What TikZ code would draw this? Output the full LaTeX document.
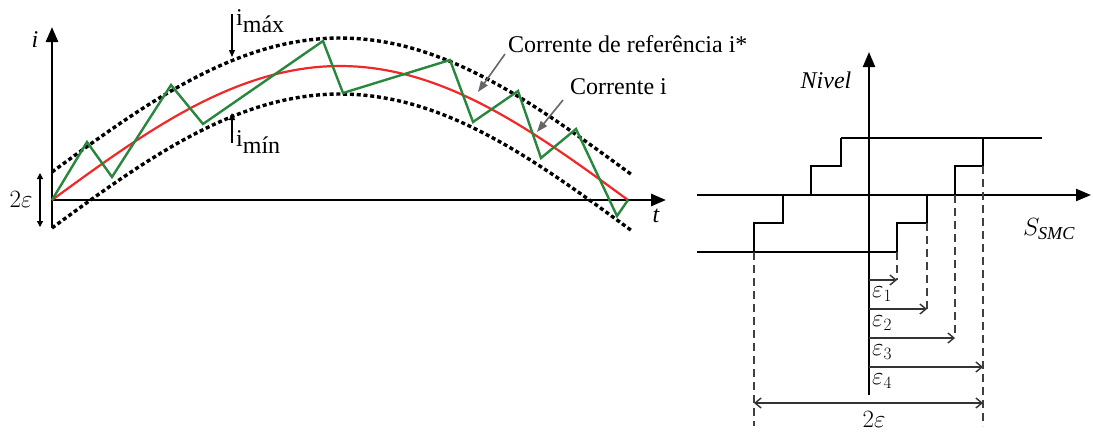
\documentclass[tikz,border=0pt]{standalone}
\usepackage{fontspec}
\setmainfont{Liberation Serif}
\usetikzlibrary{arrows.meta}
\definecolor{zig}{RGB}{40,135,60}
\definecolor{refred}{RGB}{240,40,40}
\tikzset{
  axis/.style={line width=2.8pt, -{Triangle[length=15pt,width=12pt]}},
  band/.style={line width=3.4pt, dash pattern=on 4pt off 2.8pt},
  level/.style={line width=2.2pt},
  guide/.style={line width=1.5pt, dash pattern=on 8pt off 5pt, black!75},
  dist/.style={line width=1.4pt, black!80, -{Straight Barb[length=6pt,width=10pt]}},
  lbl/.style={font=\fontsize{24}{28}\selectfont, inner sep=0pt},
  pointer/.style={line width=1.6pt, black!60, -{Triangle[length=11pt,width=8pt]}},
  limarrow/.style={line width=1.2pt, -{Triangle[length=7pt,width=6pt]}}
}
\begin{document}
\begin{tikzpicture}[x=1pt, y=-1pt]
            \useasboundingbox (0,0) rectangle (1093,432);
            \draw[axis] (52,228) -- (52,27);
            \draw[axis] (52,200) -- (666,200);
            \node[lbl, font=\fontsize{24}{28}\selectfont\itshape] (ilab) at (35,40) {i};
            \node[lbl, font=\fontsize{24}{28}\selectfont\itshape] (tlab) at (656,216) {t};
            \coordinate (epstop) at (40,173);
            \coordinate (epsbot) at (40,227);
            \draw[line width=1.2pt, {Triangle[length=6pt,width=6pt]}-{Triangle[length=6pt,width=6pt]}] (epstop) -- (epsbot);
            \node[lbl, font=\fontsize{27}{30}\selectfont] (epsleft) at (21,199) {$2\varepsilon$};
            \draw[band] plot[domain=52:632, samples=80] (\x,{172-134*sin(0.3125*(\x-52))});
            \draw[band] plot[domain=52:632, samples=80] (\x,{228-134*sin(0.3125*(\x-52))});
            \draw[refred, line width=2.2pt] plot[domain=52:628, samples=80] (\x,{200-134*sin(0.3125*(\x-52))});
            \draw[zig, line width=2.4pt] (52,200) -- (87,142) -- (112,177) -- (171,85) -- (203,124) -- (323,41) -- (343,93) -- (450,60) -- (473,122) -- (518,91) -- (541,158) -- (576,129) -- (617,216) -- (628,200);
            \node[lbl, anchor=west] (imax) at (236,21) {i\raisebox{-0.3em}{máx}};
            \coordinate (imaxtop) at (232,14);
            \coordinate (imaxtip) at (232,57);
            \draw[limarrow] (imaxtop) -- (imaxtip);
            \node[lbl, anchor=west] (imin) at (236,142) {i\raisebox{-0.3em}{mín}};
            \coordinate (iminbot) at (232,143);
            \coordinate (imintip) at (232,113);
            \draw[limarrow] (iminbot) -- (imintip);
            \node[lbl, anchor=west] (reflab) at (508,44) {Corrente de referência i*};
            \coordinate (reftip) at (478,92);
            \draw[pointer] (505,54) -- (reftip);
            \node[lbl, anchor=west] (curlab) at (570,87) {Corrente i};
            \coordinate (curtip) at (537,132);
            \draw[pointer] (563,100) -- (curtip);
            \draw[axis, line width=2.2pt] (869,395) -- (869,52);
            \draw[axis, line width=2.2pt] (697,195) -- (1091,195);
            \node[lbl, font=\fontsize{24}{28}\selectfont\itshape] (nivel) at (826,80) {Nivel};
            \node[lbl, font=\fontsize{26}{30}\selectfont] (ssmc) at (1049,229) {$S_{\mathit{SMC}}$};
            \draw[level] (841,138) -- (1042,138);
            \draw[level] (697,252) -- (897,252) -- (897,223) -- (927,223) -- (927,195);
            \draw[level] (754,252) -- (754,223) -- (783,223) -- (783,195);
            \draw[level] (811,195) -- (811,166) -- (841,166) -- (841,138);
            \draw[level] (955,195) -- (955,166) -- (983,166) -- (983,138);
            \draw[guide] (754,252) -- (754,426);
            \draw[guide] (897,252) -- (897,280);
            \draw[guide] (927,223) -- (927,309);
            \draw[guide] (955,195) -- (955,338);
            \draw[guide] (983,166) -- (983,426);
            \coordinate (e1) at (897,280);
            \coordinate (e2) at (927,309);
            \coordinate (e3) at (955,338);
            \coordinate (e4) at (983,367);
            \draw[dist] (869,280) -- (e1);
            \draw[dist] (869,309) -- (e2);
            \draw[dist] (869,338) -- (e3);
            \draw[dist] (869,367) -- (e4);
            \node[lbl, anchor=west, font=\fontsize{23}{26}\selectfont] (eps1) at (872,294) {$\varepsilon_1$};
            \node[lbl, anchor=west, font=\fontsize{23}{26}\selectfont] (eps2) at (872,323) {$\varepsilon_2$};
            \node[lbl, anchor=west, font=\fontsize{23}{26}\selectfont] (eps3) at (872,352) {$\varepsilon_3$};
            \node[lbl, anchor=west, font=\fontsize{23}{26}\selectfont] (eps4) at (872,381) {$\varepsilon_4$};
            \coordinate (wl) at (754,403);
            \coordinate (wr) at (983,403);
            \draw[line width=1.4pt, black!80, {Straight Barb[length=6pt,width=10pt]}-{Straight Barb[length=6pt,width=10pt]}] (wl) -- (wr);
            \node[lbl, font=\fontsize{27}{30}\selectfont] (epsright) at (874,419) {$2\varepsilon$};
        \end{tikzpicture}
\end{document}
